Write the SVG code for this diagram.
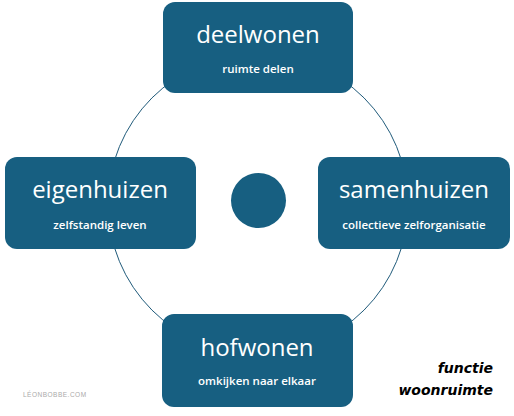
<svg xmlns="http://www.w3.org/2000/svg" width="514" height="416" viewBox="0 0 514 416">
<style>
.box{fill:#175F81;}
.t{font-family:"Open Sans","Liberation Sans",sans-serif;fill:#fff;text-anchor:middle;}
.h{font-size:24px;font-weight:500;}
.s{font-size:11.5px;font-weight:600;}
</style>
<rect width="514" height="416" fill="#fff"/>
<g id="connectors">
<circle cx="258" cy="204" r="150" fill="none" stroke="#1F5A7A" stroke-width="1"/>
</g>
<g id="center"><circle cx="258.5" cy="200.5" r="27.5" fill="#175F81"/></g>
<g id="deelwonen">
<rect class="box" x="163" y="2" width="190" height="91" rx="12"/>
<text class="t h" x="258" y="43">deelwonen</text>
<text class="t s" x="258" y="73">ruimte delen</text>
</g>
<g id="eigenhuizen">
<rect class="box" x="5" y="157" width="191" height="92" rx="12"/>
<text class="t h" x="100" y="198">eigenhuizen</text>
<text class="t s" x="100" y="229">zelfstandig leven</text>
</g>
<g id="samenhuizen">
<rect class="box" x="318" y="157" width="192" height="92" rx="12"/>
<text class="t h" x="414" y="198">samenhuizen</text>
<text class="t s" x="414" y="229">collectieve zelforganisatie</text>
</g>
<g id="hofwonen">
<rect class="box" x="162" y="314" width="191" height="93" rx="12"/>
<text class="t h" x="257" y="356">hofwonen</text>
<text class="t s" x="257" y="385">omkijken naar elkaar</text>
</g>
<g id="label">
<text x="493" y="373" font-family="'DejaVu Sans','Liberation Sans',sans-serif" font-style="italic" font-weight="bold" font-size="14" text-anchor="end" fill="#000">functie</text>
<text x="493" y="395" font-family="'DejaVu Sans','Liberation Sans',sans-serif" font-style="italic" font-weight="bold" font-size="14" text-anchor="end" fill="#000">woonruimte</text>
</g>
<text x="23" y="397" font-family="'Liberation Sans',sans-serif" font-size="6.5" fill="#aaa" letter-spacing="0.5">LÉONBOBBE.COM</text>
</svg>
